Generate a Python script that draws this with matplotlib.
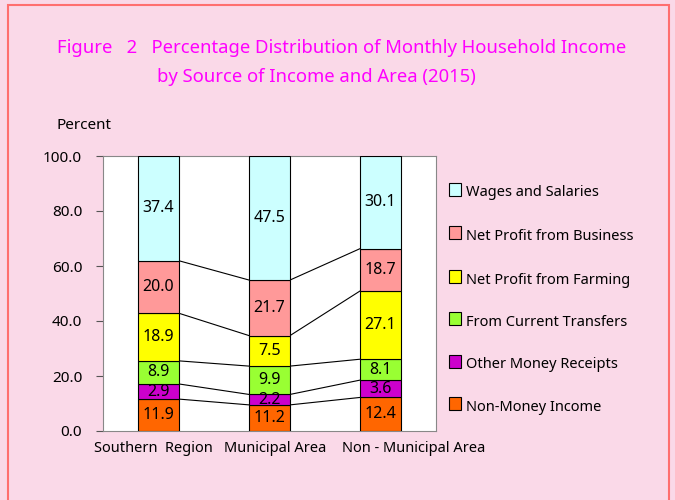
import matplotlib
matplotlib.use("Agg")
import matplotlib.pyplot as plt
import numpy as np
from matplotlib.patches import Rectangle

plt.rcParams['font.family'] = ['Noto Sans', 'DejaVu Sans']

areas = ["Southern  Region", "Municipal Area", "Non - Municipal Area"]
series = ["Non-Money Income", "Other Money Receipts", "From Current Transfers",
          "Net Profit from Farming", "Net Profit from Business", "Wages and Salaries"]
# printed values (labels)
non_money = [11.9, 11.2, 12.4]
other_money = [2.9, 2.2, 3.6]
transfers = [8.9, 9.9, 8.1]
farming = [18.9, 7.5, 27.1]
business = [20.0, 21.7, 18.7]
wages = [37.4, 47.5, 30.1]
# segment heights as drawn in the picture
non_money_h = [11.6, 9.5, 12.2]
other_money_h = [5.5, 3.8, 6.3]
transfers_h = [8.4, 10.3, 7.6]
farming_h = [17.3, 11.1, 24.8]
business_h = [19.1, 20.2, 15.4]
wages_h = [38.1, 45.1, 33.7]
colors = ["#FF6600", "#CC00CC", "#99FF33", "#FFFF00", "#FF9999", "#CCFFFF"]
yticks = [0, 20, 40, 60, 80, 100]

labels = np.array([non_money, other_money, transfers, farming, business, wages])
heights = np.array([non_money_h, other_money_h, transfers_h, farming_h, business_h, wages_h])

W, H = 675, 500
fig = plt.figure(figsize=(W/100, H/100), dpi=100)
fig.patch.set_facecolor("#FAD9E8")
fig.patches.append(Rectangle((8/W, -0.1), (669-8)/W, (H-5)/H + 0.1, transform=fig.transFigure,
                             fill=False, edgecolor="#FF6F6F", linewidth=1.5))

ax = fig.add_axes([103/W, (H-431)/H, (436-103)/W, (431-156)/H])
ax.set_facecolor("white")
x = np.arange(len(areas))
bw = 0.37
bottom = np.zeros(len(areas))
for vals, labs, col in zip(heights, labels, colors):
    ax.bar(x, vals, bw, bottom=bottom, color=col, edgecolor="black", linewidth=0.8, zorder=3)
    for xi, v, b, lb in zip(x, vals, bottom, labs):
        ax.text(xi, b + v/2, f"{lb:.1f}", ha="center", va="center", fontsize=11.5, zorder=4)
    bottom = bottom + vals

cum = np.cumsum(heights, axis=0)
for level in cum[:-1]:
    for i in range(len(areas) - 1):
        ax.plot([x[i] + bw/2, x[i+1] - bw/2], [level[i], level[i+1]], color="black", lw=0.8, zorder=2)

ax.set_xlim(-0.5, 2.5)
ax.set_ylim(0, 100)
ax.set_yticks(yticks)
ax.set_yticklabels([f"{t:.1f}" for t in yticks], fontsize=11)
ax.set_xticks([])
ax.tick_params(axis="y", length=5, direction="out", color="#555555", pad=10)
for s in ax.spines.values():
    s.set_color("#888888")
offsets = [-5/111, 6/111, 33/111]
for xi, lab, off in zip(x, areas, offsets):
    ax.text(xi + off, -3.5, lab, ha="center", va="top", fontsize=10.5)

fig.text(57/W, 1 - 129/H, "Percent", fontsize=11, va="baseline", ha="left")
fig.text(57/W, 1 - 53/H, "Figure   2   Percentage Distribution of Monthly Household Income",
         color="#FF00FF", fontsize=13.3, va="baseline", ha="left")
fig.text(157/W, 1 - 82/H, "by Source of Income and Area (2015)",
         color="#FF00FF", fontsize=13.3, va="baseline", ha="left")

leg_y = [189.5, 233, 276.5, 318.5, 361.5, 404]
for name, col, yy in zip(series[::-1], colors[::-1], leg_y):
    fig.patches.append(Rectangle((449/W, 1 - (yy + 6)/H), 12/W, 13/H, transform=fig.transFigure,
                                 facecolor=col, edgecolor="black", linewidth=0.8))
    fig.text(466/W, 1 - (yy + 7)/H, name, fontsize=10.5, va="baseline", ha="left")

fig.savefig("out.png", dpi=100, facecolor=fig.get_facecolor())
